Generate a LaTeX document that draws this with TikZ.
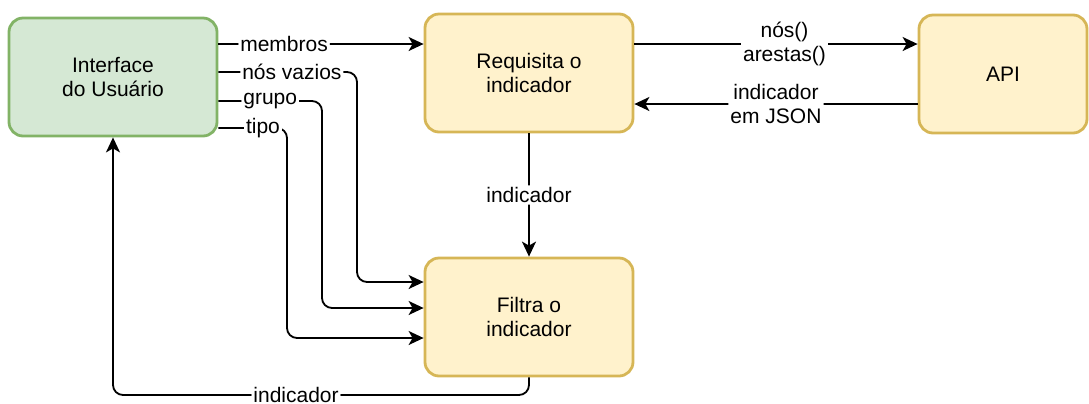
\documentclass[tikz,border=0pt]{standalone}
\usepackage{fontspec}
\setmainfont{Liberation Sans}
\usepackage{xcolor}
\usetikzlibrary{
    arrows.meta,
    shapes,
    positioning,
    calc
}
\definecolor{greenfill}{HTML}{D5E8D4}
\definecolor{greenline}{HTML}{82B366}
\definecolor{yellowfill}{HTML}{FFF2CC}
\definecolor{yellowline}{HTML}{D6B656}
\tikzset{%
    >={Stealth[length=7.5pt,width=7pt,inset=2pt]},
    % Specifications for style of nodes:
    base/.style = {
        rectangle, rounded corners=7pt, line width=1.4pt,
        minimum width=104pt, minimum height=59pt,
        text centered, align=center,
        font=\fontsize{10.5}{12}\selectfont
    },
    ui/.style = {base, draw=greenline, fill=greenfill},
    proc/.style = {base, draw=yellowline, fill=yellowfill},
    lbl/.style = {fill=white, inner sep=1pt, align=center,
        font=\fontsize{10.5}{12}\selectfont},
    link/.style = {line width=0.9pt, rounded corners=5pt}
}
\begin{document}
\begin{tikzpicture}[x=0.5pt, y=-0.5pt]
    \useasboundingbox (0,0) rectangle (1089,403);
    \node[ui] (UI) at (113,77) {Interface\\do Usuário};
    \node[proc] (REQ) at (529,73) {Requisita o\\indicador};
    \node[proc, minimum width=84pt] (API) at (1003,74) {API};
    \node[proc] (FLT) at (529,317) {Filtra o\\indicador};
    % entradas do filtro
    \draw[link,->] (UI.east |- 0,44) -- node[lbl, pos=0.32] {membros} (REQ.west |- 0,44);
    \draw[link,->] (UI.east |- 0,72) -- node[lbl, pos=0.53] {nós vazios} (357,72) -- (357,282) -- (FLT.west |- 0,282);
    \draw[link,->] (UI.east |- 0,101) -- node[lbl, pos=0.5] {grupo} (322,101) -- (322,308) -- (FLT.west |- 0,308);
    \draw[link,->] (UI.east |- 0,128) -- node[lbl, pos=0.65] {tipo} (287,128) -- (287,338) -- (FLT.west |- 0,338);
    % API
    \draw[link,->] (REQ.east |- 0,44) -- node[lbl, pos=0.53] {nós()\\arestas()} (API.west |- 0,44);
    \draw[link,->] (API.west |- 0,104) -- node[lbl, pos=0.5] {indicador\\em JSON} (REQ.east |- 0,104);
    \draw[link,->] (REQ) -- node[lbl] {indicador} (FLT);
    % retorno
    \draw[link,->] (FLT.south) -- (FLT.south |- 0,395) -- node[lbl, pos=0.56] {indicador} (UI.south |- 0,395) -- (UI.south);
\end{tikzpicture}
\end{document}
